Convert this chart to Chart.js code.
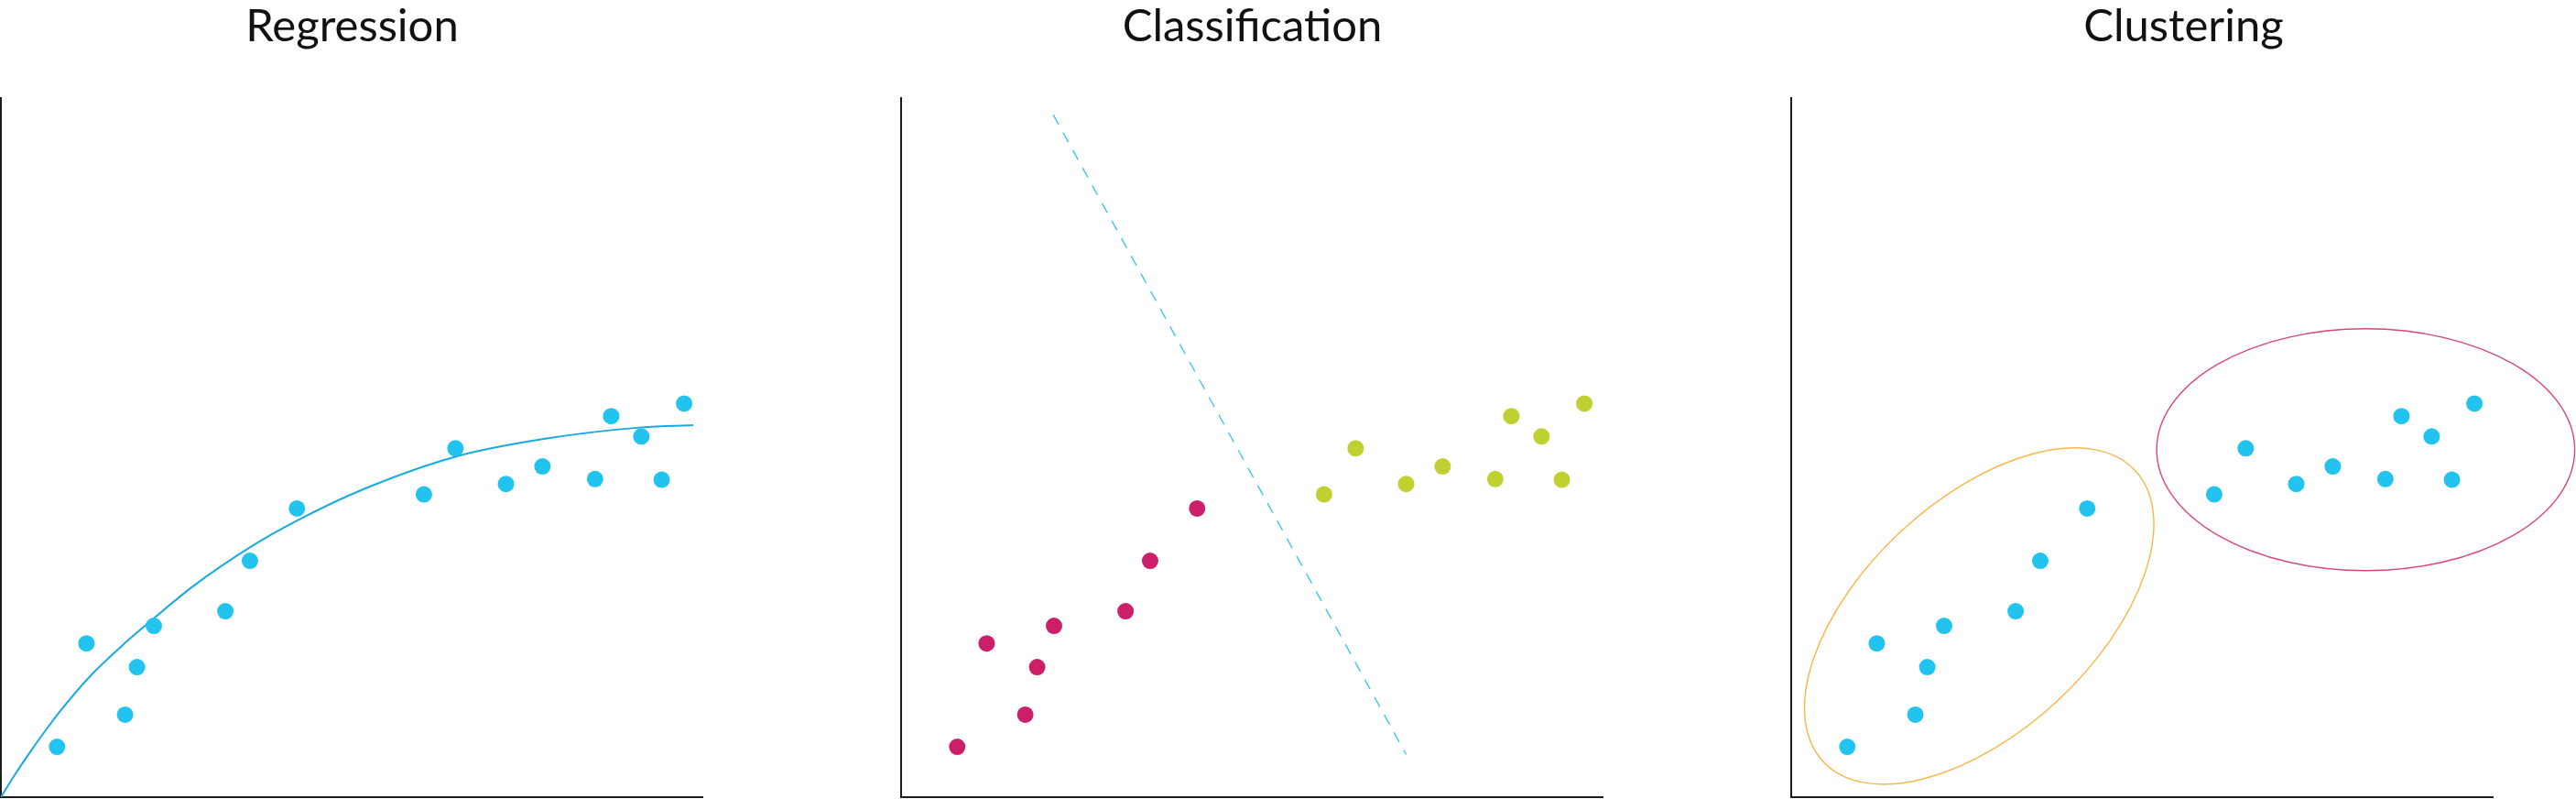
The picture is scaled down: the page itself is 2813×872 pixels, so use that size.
<!DOCTYPE html>
<html>
<head>
  <meta charset="utf-8">
  <title>Regression / Classification / Clustering</title>
  <script src="https://cdn.jsdelivr.net/npm/chart.js"></script>
  <style>
    body {
      margin: 0;
      background: #ffffff;
      width: 2813px;
      height: 872px;
      position: relative;
      overflow: hidden;
    }
    canvas {
      position: absolute;
      top: 0;
    }
  </style>
</head>
<body>
  <canvas id="regression" width="768" height="872" style="left:0px"></canvas>
  <canvas id="classification" width="783" height="872" style="left:968px"></canvas>
  <canvas id="clustering" width="873" height="872" style="left:1940px"></canvas>
  <script>
    // data (same sample points in all three panels, axes 0..100)
    const pointX = [8.0, 12.2, 17.7, 19.4, 21.8, 32.0, 35.5, 42.2, 60.3, 64.8, 72.0, 77.2, 84.7, 87.0, 91.3, 94.2, 97.4];
    const pointY = [7.2, 22.0, 11.8, 18.6, 24.5, 26.6, 33.8, 41.3, 43.3, 49.9, 44.8, 47.3, 45.5, 54.5, 51.6, 45.4, 56.3];

    // fitted regression curve
    const curveX = [0, 2.05, 4.2, 6.4, 8.6, 12.9, 17.3, 20.3, 27.3, 35.6, 42.1, 51.8, 64.8, 77.8, 91.4, 98.7];
    const curveY = [0, 3.3, 6.5, 9.6, 12.5, 17.5, 21.7, 24.3, 30.1, 35.8, 39.5, 44.1, 48.7, 51.3, 52.9, 53.2];

    // classification: first 8 points are class A, rest class B
    const classSplit = 8;
    const boundaryX = [21.7, 72.0];
    const boundaryY = [97.6, 6.1];

    // clustering: one ellipse per cluster (centre, radii, rotation in degrees)
    const clusterCx = [26.8, 81.9];
    const clusterCy = [25.9, 49.7];
    const clusterRx = [30.4, 29.8];
    const clusterRy = [16.5, 17.3];
    const clusterAngle = [43, 0];

    const titles = ['Regression', 'Classification', 'Clustering'];

    const blue = '#22c3ef';
    const pink = '#cc1f69';
    const lime = '#bfd130';
    const axisColor = '#1c1c1c';

    function toPoints(xs, ys) {
      return xs.map((x, i) => ({ x: x, y: ys[i] }));
    }

    const allPoints = toPoints(pointX, pointY);

    // centre the title between the y axis and the right edge of the canvas
    const titleShift = {
      id: 'titleShift',
      afterLayout(chart) {
        if (chart.titleBlock) {
          chart.titleBlock.left = chart.chartArea.left;
          chart.titleBlock.right = chart.width;
        }
      }
    };

    const clusterEllipses = {
      id: 'clusterEllipses',
      afterDatasetsDraw(chart, args, opts) {
        if (!opts.items) return;
        const ctx = chart.ctx;
        const xs = chart.scales.x, ys = chart.scales.y;
        ctx.save();
        opts.items.forEach(e => {
          const cx = xs.getPixelForValue(e.cx);
          const cy = ys.getPixelForValue(e.cy);
          const rx = Math.abs(xs.getPixelForValue(e.cx + e.rx) - cx);
          const ry = Math.abs(ys.getPixelForValue(e.cy + e.ry) - cy);
          ctx.beginPath();
          ctx.ellipse(cx, cy, rx, ry, -e.angle * Math.PI / 180, 0, 2 * Math.PI);
          ctx.strokeStyle = e.color;
          ctx.lineWidth = 1.4;
          ctx.stroke();
        });
        ctx.restore();
      }
    };

    function axis() {
      return {
        type: 'linear',
        min: 0,
        max: 100,
        grid: { display: false, drawTicks: false },
        ticks: { display: false },
        border: { display: true, color: axisColor, width: 2 }
      };
    }

    function makeChart(id, title, datasets, padLeft, padRight, ellipses) {
      return new Chart(document.getElementById(id), {
        type: 'scatter',
        data: { datasets: datasets },
        options: {
          responsive: false,
          animation: false,
          events: [],
          layout: {
            autoPadding: false,
            padding: { left: padLeft, right: padRight, top: 0, bottom: 2 }
          },
          scales: { x: axis(), y: axis() },
          plugins: {
            legend: { display: false },
            tooltip: { enabled: false },
            title: {
              display: true,
              text: title,
              color: '#111111',
              font: { family: 'Lato', size: 49, weight: 'normal', lineHeight: 1.2 },
              padding: { top: 0, bottom: 48.2 }
            },
            clusterEllipses: { items: ellipses }
          }
        },
        plugins: [titleShift, clusterEllipses]
      });
    }

    function dots(points, color) {
      return {
        data: points,
        backgroundColor: color,
        borderWidth: 0,
        pointRadius: 9,
        showLine: false
      };
    }

    // Regression
    makeChart('regression', titles[0], [
      dots(allPoints, blue),
      {
        data: toPoints(curveX, curveY),
        showLine: true,
        borderColor: '#17a9e2',
        borderWidth: 2,
        pointRadius: 0,
        cubicInterpolationMode: 'monotone',
        fill: false
      }
    ], 1, 1, null);

    // Classification
    makeChart('classification', titles[1], [
      dots(allPoints.slice(0, classSplit), pink),
      dots(allPoints.slice(classSplit), lime),
      {
        data: toPoints(boundaryX, boundaryY),
        showLine: true,
        borderColor: '#3ec6ee',
        borderWidth: 1.4,
        borderDash: [12, 10],
        pointRadius: 0,
        fill: false
      }
    ], 16, 1, null);

    // Clustering
    const ellipseColors = ['#f9b64a', '#d8457f'];
    makeChart('clustering', titles[2], [
      dots(allPoints, blue)
    ], 16, 91, clusterCx.map((cx, i) => ({
      cx: cx,
      cy: clusterCy[i],
      rx: clusterRx[i],
      ry: clusterRy[i],
      angle: clusterAngle[i],
      color: ellipseColors[i]
    })));
  </script>
</body>
</html>
